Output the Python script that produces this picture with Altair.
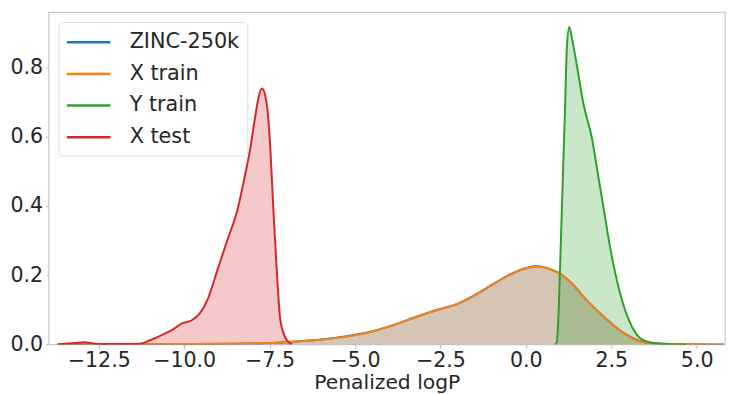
import altair as alt
import pandas as pd

series_names = ["ZINC-250k", "X train", "Y train", "X test"]
series_colors = ["#1f77b4", "#ff7f0e", "#2ca02c", "#d62728"]

zinc_x = [-13.7, -12.0, -10.0, -8.5, -7.28, -6.32, -5.35, -4.58, -3.91, -3.23, -2.56, -1.98,
          -1.50, -1.01, -0.53, -0.14, 0.10, 0.30, 0.50, 0.75, 1.01, 1.40, 1.78, 2.17, 2.56,
          2.94, 3.33, 3.71, 4.2, 5.0, 5.8]
zinc_y = [0.000, 0.0005, 0.001, 0.002, 0.005, 0.011, 0.022, 0.036, 0.055, 0.079, 0.101, 0.118,
          0.142, 0.171, 0.199, 0.216, 0.223, 0.226, 0.224, 0.216, 0.204, 0.171, 0.128, 0.090, 0.056,
          0.028, 0.010, 0.003, 0.001, 0.0002, 0.000]

xtrain_x = [-13.7, -12.0, -10.0, -8.5, -7.28, -6.32, -5.35, -4.58, -3.91, -3.23, -2.56, -1.98,
            -1.50, -1.01, -0.53, -0.14, 0.10, 0.30, 0.50, 0.75, 1.01, 1.40, 1.78, 2.17, 2.56,
            2.94, 3.33, 3.71, 4.2, 5.0, 5.8]
xtrain_y = [0.000, 0.0005, 0.001, 0.002, 0.005, 0.011, 0.021, 0.035, 0.054, 0.078, 0.100, 0.117,
            0.141, 0.170, 0.198, 0.215, 0.222, 0.225, 0.223, 0.215, 0.203, 0.170, 0.127, 0.089, 0.055,
            0.027, 0.009, 0.003, 0.001, 0.0002, 0.000]

ytrain_x = [0.85, 0.90, 0.96, 1.02, 1.08, 1.15, 1.20, 1.27, 1.35, 1.49, 1.69, 1.93, 2.14, 2.27,
            2.46, 2.75, 3.04, 3.33, 3.62, 4.0, 4.7]
ytrain_y = [0.000, 0.005, 0.093, 0.280, 0.470, 0.690, 0.855, 0.917, 0.884, 0.808, 0.693, 0.598,
            0.474, 0.398, 0.284, 0.151, 0.065, 0.019, 0.006, 0.002, 0.000]

xtest_x = [-13.7, -13.3, -12.93, -12.6, -12.2, -11.6, -11.3, -11.0, -10.66, -10.3, -10.08, -9.79,
           -9.55, -9.31, -9.02, -8.73, -8.44, -8.25, -8.06, -7.91, -7.82, -7.72, -7.62, -7.57,
           -7.48, -7.38, -7.28, -7.19, -7.05, -6.90, -6.84]
xtest_y = [0.000, 0.003, 0.006, 0.002, 0.001, 0.001, 0.002, 0.012, 0.027, 0.045, 0.060, 0.069,
           0.089, 0.131, 0.217, 0.303, 0.389, 0.474, 0.569, 0.665, 0.715, 0.739, 0.715, 0.684,
           0.569, 0.370, 0.198, 0.074, 0.022, 0.003, 0.000]

x_ticks = [-12.5, -10.0, -7.5, -5.0, -2.5, 0.0, 2.5, 5.0]
y_ticks = [0.0, 0.2, 0.4, 0.6, 0.8]

frames = []
for name, xs, ys in [("ZINC-250k", zinc_x, zinc_y), ("X train", xtrain_x, xtrain_y),
                     ("Y train", ytrain_x, ytrain_y), ("X test", xtest_x, xtest_y)]:
    frames.append(pd.DataFrame({"x": xs, "density": ys, "series": name}))
df = pd.concat(frames, ignore_index=True)
df["order"] = df["series"].map({n: i for i, n in enumerate(series_names)})

x_enc = alt.X("x:Q", scale=alt.Scale(domain=[-13.97, 5.83], nice=False, zero=False),
              axis=alt.Axis(values=x_ticks, format=".1f", title="Penalized logP",
                            labelPadding=2, titleY=44.5, titleBaseline="alphabetic"))
y_enc = alt.Y("density:Q", stack=None, scale=alt.Scale(domain=[0, 0.96], nice=False),
              axis=alt.Axis(values=y_ticks, format=".1f", title=None))

# fill scale listed in reverse order so that its (hidden) legend is not merged with the line legend
area = alt.Chart(df).mark_area(opacity=0.25, interpolate="monotone", clip=True).encode(
    x=x_enc, y=y_enc,
    fill=alt.Fill("series:N", scale=alt.Scale(domain=series_names[::-1], range=series_colors[::-1]),
                  legend=None),
    order="order:Q",
)

line = alt.Chart(df).mark_line(strokeWidth=2, interpolate="monotone", clip=True).encode(
    x=x_enc, y=y_enc,
    stroke=alt.Stroke("series:N", scale=alt.Scale(domain=series_names, range=series_colors),
                      legend=alt.Legend(title=None, orient="none", legendX=10, legendY=10,
                                        symbolType="M-2,0H2", symbolSize=484, symbolOffset=10,
                                        symbolStrokeWidth=2.5, labelOffset=29,
                                        labelFontSize=21, labelFont="DejaVu Sans",
                                        labelColor="#262626", rowPadding=9, padding=8,
                                        fillColor="rgba(255,255,255,0.8)", strokeColor="#dddddd",
                                        cornerRadius=4)),
    order="order:Q",
)

chart = alt.layer(area, line).properties(
    width=684, height=336,
    autosize=alt.AutoSizeParams(type="none"),
    padding={"left": 41, "top": 2, "right": 1, "bottom": 47},
).configure_view(
    stroke="#cccccc", strokeWidth=1.25
).configure_axis(
    grid=False, domain=False, labelFont="DejaVu Sans", labelFontSize=20.8, labelColor="#262626",
    tickColor="#bbbbbb", tickSize=4, labelPadding=3, titleFont="DejaVu Sans", titleFontSize=20.5,
    titleFontWeight="normal", titleColor="#262626", titlePadding=1
).configure_axisY(tickSize=3, labelPadding=3)

chart.save("out.html", embed_options={"renderer": "svg", "actions": False})
